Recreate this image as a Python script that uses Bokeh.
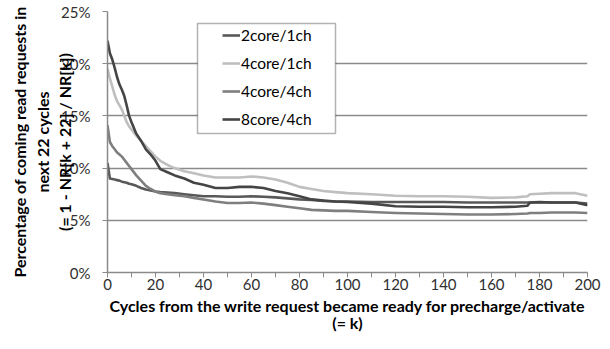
from bokeh.plotting import figure
from bokeh.models import (Range1d, FixedTicker, Legend, LegendItem, BoxAnnotation)
from bokeh.embed import file_html
from bokeh.resources import INLINE

# ---- data ----
k = [0, 1, 2, 3, 4, 5, 6, 7, 8, 9, 10, 12, 14, 16, 18, 20, 22, 25, 28, 32, 36, 40,
     45, 50, 55, 60, 65, 70, 75, 80, 85, 90, 95, 100, 110, 120, 130, 140, 150, 160,
     170, 175, 176, 180, 185, 190, 195, 200]

core2_ch1 = [10.5, 9.0, 8.95, 8.9, 8.85, 8.8, 8.7, 8.65, 8.6, 8.5, 8.45, 8.3, 8.1, 7.95,
             7.85, 7.75, 7.7, 7.65, 7.6, 7.5, 7.4, 7.3, 7.3, 7.25, 7.25, 7.3, 7.25, 7.2,
             7.1, 7.0, 6.95, 6.85, 6.8, 6.8, 6.75, 6.75, 6.75, 6.75, 6.7, 6.7, 6.7, 6.7,
             6.7, 6.7, 6.7, 6.7, 6.7, 6.6]

core4_ch1 = [19.5, 18.6, 17.8, 17.0, 16.4, 16.0, 15.6, 15.0, 14.4, 14.0, 13.7, 13.1, 12.6,
             12.1, 11.6, 11.1, 10.7, 10.3, 10.0, 9.7, 9.5, 9.3, 9.1, 9.1, 9.1, 9.2, 9.1,
             8.9, 8.6, 8.2, 8.0, 7.8, 7.7, 7.6, 7.5, 7.35, 7.3, 7.3, 7.25, 7.15, 7.2, 7.3,
             7.5, 7.55, 7.6, 7.6, 7.6, 7.35]

core4_ch4 = [14.1, 12.5, 12.1, 11.8, 11.5, 11.3, 11.1, 10.8, 10.5, 10.2, 9.9, 9.3, 8.8,
             8.3, 8.0, 7.75, 7.6, 7.5, 7.4, 7.3, 7.15, 7.0, 6.8, 6.65, 6.65, 6.7, 6.6,
             6.45, 6.3, 6.15, 6.0, 5.95, 5.9, 5.9, 5.8, 5.7, 5.65, 5.6, 5.55, 5.55, 5.6,
             5.65, 5.7, 5.7, 5.75, 5.75, 5.75, 5.7]

core8_ch4 = [22.2, 21.0, 20.4, 19.6, 18.7, 18.0, 17.5, 16.9, 16.0, 15.0, 14.4, 13.3, 12.6,
             11.8, 11.3, 10.7, 9.9, 9.6, 9.3, 9.0, 8.6, 8.4, 8.1, 8.1, 8.2, 8.2, 8.1, 7.8,
             7.6, 7.3, 7.0, 6.9, 6.8, 6.75, 6.6, 6.35, 6.3, 6.3, 6.25, 6.25, 6.3, 6.4,
             6.7, 6.75, 6.7, 6.7, 6.7, 6.45]

series_names = ["2core/1ch", "4core/1ch", "4core/4ch", "8core/4ch"]
series_values = [core2_ch1, core4_ch1, core4_ch4, core8_ch4]
series_colors = ["#595959", "#BFBFBF", "#7F7F7F", "#454545"]

x_major_ticks = [0, 20, 40, 60, 80, 100, 120, 140, 160, 180, 200]
x_minor_ticks = [10, 30, 50, 70, 90, 110, 130, 150, 170, 190]
y_ticks = [0, 5, 10, 15, 20, 25]
y_tick_labels = ["0%", "5%", "10%", "15%", "20%", "25%"]

x_title = "Cycles from the write request became ready for precharge/activate\n(= k)"
y_title = "Percentage of coming read requests in\nnext 22 cycles\n(= 1 - NR[k + 22] / NR[k])"

FONT = "Lato"
GRID = "#8A8A8A"

p = figure(output_backend="svg", toolbar_location=None,
           frame_width=480, frame_height=261,
           min_border_left=107, min_border_right=20, min_border_top=11, min_border_bottom=74,
           x_range=Range1d(0, 200), y_range=Range1d(0, 25))
p.outline_line_color = None
p.background_fill_color = "white"
p.border_fill_color = "white"

# grid
p.xgrid.visible = False
p.ygrid.ticker = FixedTicker(ticks=y_ticks)
p.ygrid.grid_line_color = GRID
p.ygrid.grid_line_width = 1.5

# x axis
xa = p.xaxis[0]
xa.ticker = FixedTicker(ticks=x_major_ticks, minor_ticks=x_minor_ticks)
xa.axis_line_color = GRID
xa.axis_line_width = 1.5
xa.major_tick_line_color = GRID
xa.minor_tick_line_color = GRID
xa.major_tick_in = 0
xa.major_tick_out = 5
xa.minor_tick_in = 0
xa.minor_tick_out = 5
xa.major_label_standoff = 1
xa.major_label_text_font = FONT
xa.major_label_text_font_size = "15px"
xa.major_label_text_color = "#303030"
xa.axis_label = x_title
xa.axis_label_text_font = FONT
xa.axis_label_text_font_size = "16px"
xa.axis_label_text_font_style = "bold"
xa.axis_label_text_color = "black"
xa.axis_label_text_line_height = 0.9
xa.axis_label_standoff = 3

# y axis
ya = p.yaxis[0]
ya.ticker = FixedTicker(ticks=y_ticks)
ya.major_label_overrides = {t: l for t, l in zip(y_ticks, y_tick_labels)}
ya.axis_line_color = GRID
ya.axis_line_width = 1.5
ya.major_tick_line_color = GRID
ya.major_tick_in = 0
ya.major_tick_out = 5
ya.minor_tick_line_color = None
ya.major_label_standoff = 12
ya.major_label_text_font = FONT
ya.major_label_text_font_size = "15px"
ya.major_label_text_color = "#303030"
ya.axis_label = y_title
ya.axis_label_text_font = FONT
ya.axis_label_text_font_size = "16px"
ya.axis_label_text_font_style = "bold"
ya.axis_label_text_color = "black"
ya.axis_label_text_line_height = 1.18
ya.axis_label_standoff = -16

# lines
items = []
for name, vals, col in zip(series_names, series_values, series_colors):
    r = p.line(k, vals, line_color=col, line_width=2.6, line_join="round")
    items.append(LegendItem(label=name, renderers=[r]))

# legend box
p.add_layout(BoxAnnotation(left=90, right=228, bottom=139, top=249,
                           left_units="screen", right_units="screen",
                           bottom_units="screen", top_units="screen",
                           fill_color="white", fill_alpha=1.0,
                           line_color="black", line_width=1.5, level="annotation"))

legend = Legend(items=items, location=(115, 139), padding=0, margin=0, spacing=0,
                glyph_width=18, glyph_height=28, label_height=28, label_standoff=1,
                label_text_font=FONT, label_text_font_size="15.5px", label_text_color="black",
                border_line_alpha=0, background_fill_alpha=0)
p.add_layout(legend, "center")

open("out.html", "w").write(file_html(p, INLINE))
